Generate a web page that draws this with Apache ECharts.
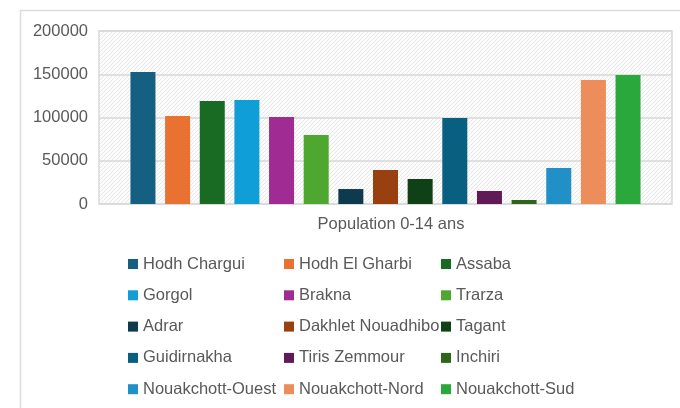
<!DOCTYPE html>
<html>
<head>
<meta charset="utf-8">
<script src="https://cdn.jsdelivr.net/npm/echarts@6/dist/echarts.min.js"></script>
<style>
  html, body { margin: 0; padding: 0; background: #fff; }
  #main { width: 680px; height: 408px; }
</style>
</head>
<body>
<div id="main"></div>
<script>
// données
const categories = ['Population 0-14 ans'];
const regions = [
  'Hodh Chargui', 'Hodh El Gharbi', 'Assaba',
  'Gorgol', 'Brakna', 'Trarza',
  'Adrar', 'Dakhlet Nouadhibo', 'Tagant',
  'Guidirnakha', 'Tiris Zemmour', 'Inchiri',
  'Nouakchott-Ouest', 'Nouakchott-Nord', 'Nouakchott-Sud'
];
const population = [152600, 101700, 119100, 120200, 100600, 79800, 17300, 39300, 28900, 99400, 15000, 4600, 41600, 143400, 149100];
const colors = [
  '#156082', '#e97132', '#196b24',
  '#0f9ed5', '#a02b93', '#4ea72e',
  '#0d3a4e', '#994010', '#0f4016',
  '#095f80', '#601a58', '#2f641c',
  '#2190c6', '#ed8d5b', '#2ba83b'
];
const yMin = 0, yMax = 200000, yStep = 50000;

var font = 'Liberation Sans, Arial, sans-serif';
var textColor = '#595959';

// fond hachuré de la zone de traçage
var hatch = document.createElement('canvas');
hatch.width = 4; hatch.height = 4;
var hc = hatch.getContext('2d');
hc.fillStyle = '#fcfcfc';
hc.fillRect(0, 0, 4, 4);
hc.fillStyle = '#e8e8e8';
for (var i = 0; i < 4; i++) hc.fillRect(i, 3 - i, 1, 1);

var myChart = echarts.init(document.getElementById('main'));

var series = regions.map(function (name, i) {
  return {
    name: name,
    type: 'bar',
    data: [population[i]],
    barWidth: 25,
    barGap: '38.6%',
    itemStyle: { color: colors[i] }
  };
});

// légende en 3 colonnes
var legendCols = [128, 284, 441].map(function (x, c) {
  return {
    orient: 'vertical',
    left: x,
    top: 254,
    padding: 0,
    height: 150,
    icon: 'rect',
    itemWidth: 10,
    itemHeight: 10,
    itemGap: 11.3,
    selectedMode: false,
    data: regions.filter(function (r, i) { return i % 3 === c; }),
    textStyle: { color: textColor, fontSize: 16.5, fontFamily: font, lineHeight: 20 }
  };
});

myChart.setOption({
  animation: false,
  textStyle: { fontFamily: font },
  graphic: [{
    type: 'rect',
    shape: { x: 20.5, y: 10.5, width: 700, height: 420 },
    style: { fill: 'none', stroke: '#dcdcdc', lineWidth: 1.5 },
    z: -10
  }],
  grid: {
    left: 99, right: 8, top: 31, bottom: 204,
    show: true,
    backgroundColor: { image: hatch, repeat: 'repeat' },
    borderColor: '#d9d9d9',
    borderWidth: 1.5
  },
  legend: legendCols,
  xAxis: {
    type: 'category',
    data: categories,
    axisLine: { show: false },
    axisTick: { show: false },
    axisLabel: {
      color: textColor, fontSize: 16.5, fontFamily: font,
      margin: 12, padding: [0, 0, 0, 11]
    }
  },
  yAxis: {
    type: 'value',
    min: yMin, max: yMax, interval: yStep,
    axisLine: { show: false },
    axisTick: { show: false },
    splitLine: { lineStyle: { color: '#d9d9d9', width: 1.5 } },
    axisLabel: {
      color: textColor, fontSize: 16.5, fontFamily: font, margin: 11,
      formatter: function (v) { return String(v); }
    }
  },
  series: series
});
</script>
</body>
</html>
